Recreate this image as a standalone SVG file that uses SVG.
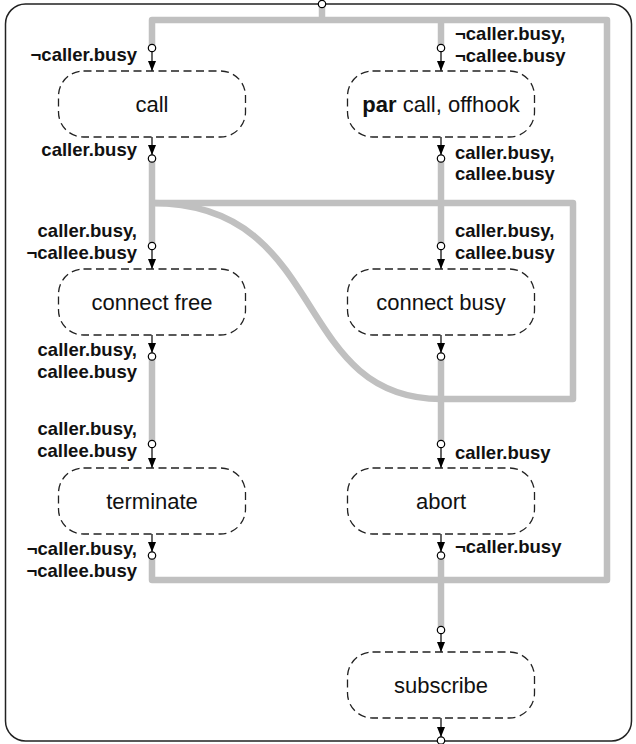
<svg xmlns="http://www.w3.org/2000/svg" width="636" height="744" viewBox="0 0 636 744">
<style>
.frame{fill:none;stroke:#222;stroke-width:1.5}
.flow{fill:none;stroke:#c0c0c0;stroke-width:6.5;stroke-linejoin:round}
.box{fill:#fff;stroke:#222;stroke-width:1.3;stroke-dasharray:8 4.5}
.nt{font-family:"Liberation Sans",Arial,sans-serif;font-size:22px;fill:#111;text-anchor:middle}
.lb{font-family:"Liberation Sans",Arial,sans-serif;font-size:18.5px;font-weight:bold;fill:#111}
.l{text-anchor:end}
.r{text-anchor:start}
.ar{stroke:#000;stroke-width:1.2;fill:none;marker-end:url(#ah)}
.port{fill:#fff;stroke:#000;stroke-width:1.2}
</style>
<defs>
<marker id="ah" viewBox="0 0 10 8" refX="10" refY="4" markerWidth="10" markerHeight="8" markerUnits="userSpaceOnUse" orient="auto">
<path d="M0,0 L10,4 L0,8 z" fill="#000"/>
</marker>
</defs>
<rect class="frame" x="5.5" y="4" width="626" height="737" rx="20" ry="20"/>
<g id="connectors">
<path class="flow" d="M152,48 V20 H607 V580 H152 V556"/>
<path class="flow" d="M322,6 V20"/>
<path class="flow" d="M441,20 V48"/>
<path class="flow" d="M152,159 V246"/>
<path class="flow" d="M441,159 V246"/>
<path class="flow" d="M152,357 V444"/>
<path class="flow" d="M441,357 V444"/>
<path class="flow" d="M441,556 V630"/>
<path class="flow" d="M152,203 H573 V399 H441"/>
<path class="flow" d="M152,203 C330,203 290,399 441,399"/>
<line class="ar" x1="152" y1="51" x2="152" y2="71"/>
<line class="ar" x1="441" y1="51" x2="441" y2="71"/>
<line class="ar" x1="152" y1="137" x2="152" y2="155"/>
<line class="ar" x1="441" y1="137" x2="441" y2="155"/>
<line class="ar" x1="152" y1="249" x2="152" y2="269"/>
<line class="ar" x1="441" y1="249" x2="441" y2="269"/>
<line class="ar" x1="152" y1="335" x2="152" y2="353"/>
<line class="ar" x1="441" y1="335" x2="441" y2="353"/>
<line class="ar" x1="152" y1="447" x2="152" y2="468"/>
<line class="ar" x1="441" y1="447" x2="441" y2="468"/>
<line class="ar" x1="152" y1="534" x2="152" y2="552"/>
<line class="ar" x1="441" y1="534" x2="441" y2="552"/>
<line class="ar" x1="441" y1="633" x2="441" y2="652"/>
<line class="ar" x1="441" y1="718" x2="441" y2="737"/>
<circle class="port" cx="322" cy="4" r="3.7"/>
<circle class="port" cx="152" cy="48" r="3.7"/>
<circle class="port" cx="441" cy="48" r="3.7"/>
<circle class="port" cx="152" cy="158.5" r="3.7"/>
<circle class="port" cx="441" cy="158.5" r="3.7"/>
<circle class="port" cx="152" cy="246" r="3.7"/>
<circle class="port" cx="441" cy="246" r="3.7"/>
<circle class="port" cx="152" cy="356.5" r="3.7"/>
<circle class="port" cx="441" cy="356.5" r="3.7"/>
<circle class="port" cx="152" cy="444" r="3.7"/>
<circle class="port" cx="441" cy="444" r="3.7"/>
<circle class="port" cx="152" cy="555.5" r="3.7"/>
<circle class="port" cx="441" cy="555.5" r="3.7"/>
<circle class="port" cx="441" cy="630" r="3.7"/>
<circle class="port" cx="441" cy="740.5" r="3.7"/>
<text class="lb l" x="137" y="61">¬caller.busy</text>
<text class="lb l" x="137" y="156">caller.busy</text>
<text class="lb r" x="455" y="40">¬caller.busy,</text>
<text class="lb r" x="455" y="62">¬callee.busy</text>
<text class="lb r" x="455" y="159">caller.busy,</text>
<text class="lb r" x="455" y="180">callee.busy</text>
<text class="lb l" x="137" y="237">caller.busy,</text>
<text class="lb l" x="137" y="259">¬callee.busy</text>
<text class="lb r" x="455" y="237">caller.busy,</text>
<text class="lb r" x="455" y="259">callee.busy</text>
<text class="lb l" x="137" y="356">caller.busy,</text>
<text class="lb l" x="137" y="378">callee.busy</text>
<text class="lb l" x="137" y="435">caller.busy,</text>
<text class="lb l" x="137" y="457">callee.busy</text>
<text class="lb r" x="455" y="459">caller.busy</text>
<text class="lb l" x="137" y="555">¬caller.busy,</text>
<text class="lb l" x="137" y="577">¬callee.busy</text>
<text class="lb r" x="455" y="553">¬caller.busy</text>
</g>
<g id="call"><rect class="box" x="58.5" y="71" width="187" height="66" rx="25" ry="25"/><text class="nt" x="152" y="112">call</text></g>
<g id="par"><rect class="box" x="347.5" y="71" width="187" height="66" rx="25" ry="25"/><text class="nt" x="441" y="112"><tspan font-weight="bold">par</tspan> call, offhook</text></g>
<g id="connect-free"><rect class="box" x="58.5" y="269" width="187" height="66" rx="25" ry="25"/><text class="nt" x="152" y="310">connect free</text></g>
<g id="connect-busy"><rect class="box" x="347.5" y="269" width="187" height="66" rx="25" ry="25"/><text class="nt" x="441" y="310">connect busy</text></g>
<g id="terminate"><rect class="box" x="58.5" y="468" width="187" height="66" rx="25" ry="25"/><text class="nt" x="152" y="509">terminate</text></g>
<g id="abort"><rect class="box" x="347.5" y="468" width="187" height="66" rx="25" ry="25"/><text class="nt" x="441" y="509">abort</text></g>
<g id="subscribe"><rect class="box" x="347.5" y="652" width="187" height="66" rx="25" ry="25"/><text class="nt" x="441" y="693">subscribe</text></g>
</svg>
